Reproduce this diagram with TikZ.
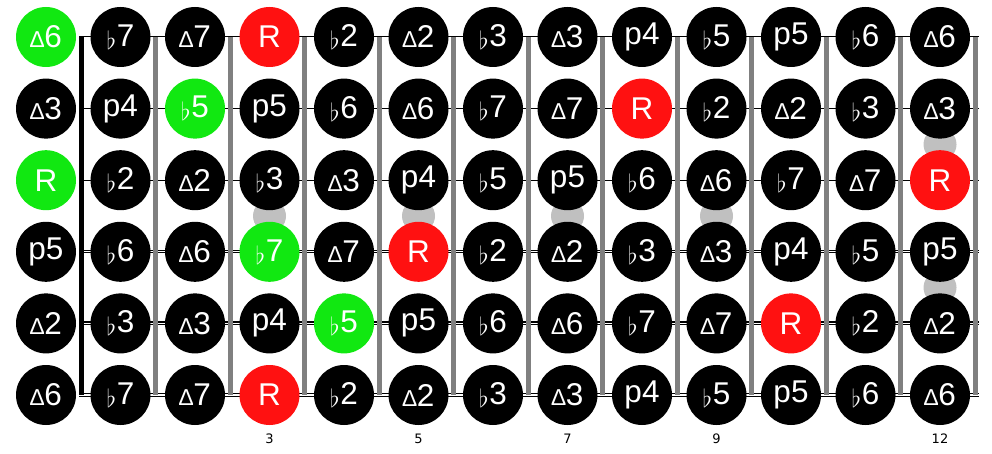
\documentclass[tikz,border=0pt]{standalone}
\usepackage{fontspec}
\setmainfont{Liberation Sans}
\newfontfamily\djvfont{DejaVu Sans}
\definecolor{nred}{RGB}{255,17,17}
\definecolor{ngreen}{RGB}{17,232,17}
\definecolor{fretgray}{RGB}{128,128,128}
\definecolor{markgray}{RGB}{192,192,192}
\newcommand\nflat{{\fontsize{29}{29}\selectfont\raisebox{-3pt}{$\flat$}\kern1pt}}
\newcommand\nmaj{{\fontsize{23}{23}\selectfont ∆}}
\begin{document}
\begin{tikzpicture}[x=1pt,y=-1pt,
  note/.style={circle, fill=black, minimum size=60pt, inner sep=0pt, text=white,
    font=\fontsize{31.5}{31.5}\selectfont},
  nb/.style={note},
  rt/.style={note, fill=nred},
  hl/.style={note, fill=ngreen},
  fretline/.style={line width=5pt, fretgray},
  nutline/.style={line width=5pt, black},
  marker/.style={circle, fill=markgray, minimum size=33pt, inner sep=0pt},
  fretnum/.style={font=\djvfont\fontsize{13}{13}\selectfont, text=black}]
\useasboundingbox (0,0) rectangle (992,454);
% strings
\foreach \r/\w/\iw in {0/1/0,1/1/0,2/1/0,3/3.2/1.2,4/4/1.8,5/4.6/2.4}{
  \coordinate (sa\r) at (79,37+71.6*\r);
  \coordinate (sb\r) at (979,37+71.6*\r);
  \draw[line width=\w pt, black] (sa\r) -- (sb\r);
  \ifdim\iw pt>0pt \draw[line width=\iw pt, white] (sa\r) -- (sb\r);\fi
}
% nut and frets
\coordinate (nt) at (81,37);
\coordinate (nb) at (81,395);
\draw[nutline] (nt) -- (nb);
\foreach \k in {1,...,12}{
  \coordinate (ft\k) at (81+74.5*\k,37);
  \coordinate (fb\k) at (81+74.5*\k,395);
  \draw[fretline] (ft\k) -- (fb\k);
}
% markers
\foreach \c in {3,5,7,9}{
  \node[marker] (mk\c) at (46+74.5*\c,37+71.6*2.5) {};
}
\node[marker] (mk12a) at (46+74.5*12,37+71.6*1.5) {};
\node[marker] (mk12b) at (46+74.5*12,37+71.6*3.5) {};
% notes
\newcommand\placerow[2]{%
  \foreach \lab/\sty [count=\c from 0] in {#2}{
    \node[\sty] (n#1-\c) at (46+74.5*\c,37+71.6*#1) {\lab};
  }}
\placerow{0}{{\nmaj6}/hl,{\nflat7}/nb,{\nmaj7}/nb,R/rt,{\nflat2}/nb,{\nmaj2}/nb,{\nflat3}/nb,{\nmaj3}/nb,p4/nb,{\nflat5}/nb,p5/nb,{\nflat6}/nb,{\nmaj6}/nb}
\placerow{1}{{\nmaj3}/nb,p4/nb,{\nflat5}/hl,p5/nb,{\nflat6}/nb,{\nmaj6}/nb,{\nflat7}/nb,{\nmaj7}/nb,R/rt,{\nflat2}/nb,{\nmaj2}/nb,{\nflat3}/nb,{\nmaj3}/nb}
\placerow{2}{R/hl,{\nflat2}/nb,{\nmaj2}/nb,{\nflat3}/nb,{\nmaj3}/nb,p4/nb,{\nflat5}/nb,p5/nb,{\nflat6}/nb,{\nmaj6}/nb,{\nflat7}/nb,{\nmaj7}/nb,R/rt}
\placerow{3}{p5/nb,{\nflat6}/nb,{\nmaj6}/nb,{\nflat7}/hl,{\nmaj7}/nb,R/rt,{\nflat2}/nb,{\nmaj2}/nb,{\nflat3}/nb,{\nmaj3}/nb,p4/nb,{\nflat5}/nb,p5/nb}
\placerow{4}{{\nmaj2}/nb,{\nflat3}/nb,{\nmaj3}/nb,p4/nb,{\nflat5}/hl,p5/nb,{\nflat6}/nb,{\nmaj6}/nb,{\nflat7}/nb,{\nmaj7}/nb,R/rt,{\nflat2}/nb,{\nmaj2}/nb}
\placerow{5}{{\nmaj6}/nb,{\nflat7}/nb,{\nmaj7}/nb,R/rt,{\nflat2}/nb,{\nmaj2}/nb,{\nflat3}/nb,{\nmaj3}/nb,p4/nb,{\nflat5}/nb,p5/nb,{\nflat6}/nb,{\nmaj6}/nb}
% fret numbers
\foreach \c in {3,5,7,9,12}{
  \node[fretnum] (fn\c) at (46+74.5*\c,439) {\c};
}
\end{tikzpicture}
\end{document}
